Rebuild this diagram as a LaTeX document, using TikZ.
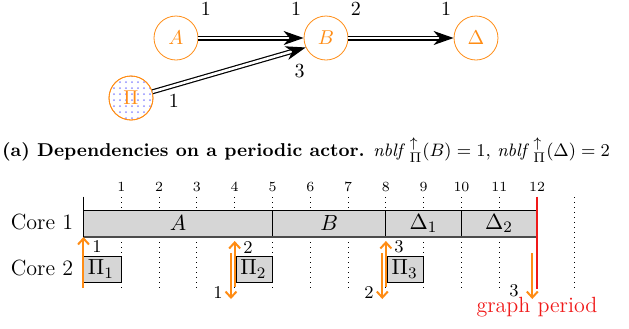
\documentclass[tikz,border=0pt]{standalone}
\usepackage{amsmath,amssymb}
\usepackage{xcolor}
\usetikzlibrary{arrows.meta,patterns}

\definecolor{actorcol}{RGB}{255,140,20}
\definecolor{periodcol}{RGB}{240,25,25}

\tikzset{
  actor/.style={circle, draw=actorcol, text=actorcol, minimum size=22pt, inner sep=0pt},
  chan/.style={double, double distance=1.3pt, line width=0.6pt,
    -{Stealth[length=10pt,width=7pt,inset=3pt]}},
  rate/.style={inner sep=1pt},
  job/.style={draw, fill=black!16},
  slot/.style={dotted, line width=0.5pt},
  trigger/.style={draw=actorcol, line width=1pt, -{Straight Barb[length=3pt,width=5.5pt]}},
  count/.style={font=\small, inner sep=1pt},
  big/.style={font=\fontsize{11}{13}\selectfont}
}

\begin{document}
\begin{tikzpicture}[x=0.5pt, y=-0.5pt]
  \useasboundingbox (0,0) rectangle (629,328);
  % dependency graph
  \node[actor, pattern=dots, pattern color=blue!45] (P) at (131,98) {};
  \node[actor] (A) at (176,38) {$A$};
  \node[actor] (B) at (326,38) {$B$};
  \node[actor] (D) at (476,38) {$\Delta$};
  \node[actor] (Pi) at (P) {$\Pi$};
  \draw[chan] (A) -- node[rate, pos=0.07, above=10pt] {1} node[rate, pos=0.93, above=10pt] {1} (B);
  \draw[chan] (B) -- node[rate, pos=0.07, above=10pt] {2} node[rate, pos=0.93, above=10pt] {1} (D);
  \draw[chan] (Pi) -- node[rate, pos=0.14, below=3pt] {1} node[rate, pos=0.96, below=6pt] {3} (B.205);

  % caption
  \node[font=\fontsize{9.3}{11}\selectfont] (cap) at (306,150) {\textbf{(a) Dependencies on a periodic actor.}
    ${\mathit{nblf}\,}^{\uparrow}_{\Pi}(B) = 1$, ${\mathit{nblf}\,}^{\uparrow}_{\Pi}(\Delta) = 2$};

  % schedule
  \foreach \t in {1,...,12}
    \node[font=\scriptsize] (tick\t) at ({83.5+37.8*\t},187) {\t};
  \foreach \t in {1,...,11,13}
    \draw[slot] ({83.5+37.8*\t},197) -- ({83.5+37.8*\t},288);
  \node[big] (core1) at (42,222) {Core 1};
  \node[big] (core2) at (42,268) {Core 2};

  \draw[job] (83.5,210.5) rectangle (272.5,236.5);
  \draw[job] (272.5,210.5) rectangle (385.9,236.5);
  \draw[job] (385.9,210.5) rectangle (461.1,236.5);
  \draw[job] (461.1,210.5) rectangle (537.1,236.5);
  \draw[black!70, line width=1pt] (83.5,236.5) -- (537.1,236.5);
  \node[big] (jA) at (178,223.5) {$A$};
  \node[big] (jB) at (329.2,223.5) {$B$};
  \node[big] (jD1) at (423.5,223.5) {$\Delta_1$};
  \node[big] (jD2) at (499.1,223.5) {$\Delta_2$};

  \draw[job] (83.5,256) rectangle (121.3,282);
  \draw[job] (236,256) rectangle (272.5,282);
  \draw[job] (387.3,256) rectangle (423.7,282);
  \node[big, anchor=west, inner sep=2pt] (jP1) at (83.5,269) {$\Pi_1$};
  \node[big, anchor=west, inner sep=2pt] (jP2) at (236,269) {$\Pi_2$};
  \node[big, anchor=west, inner sep=2pt] (jP3) at (387.3,269) {$\Pi_3$};

  \draw[line width=0.8pt] (83.5,196.5) -- (83.5,288);
  \draw[periodcol, line width=1.2pt] (537.1,196.5) -- (537.1,289);
  \node[big, text=periodcol] (per) at (537,307) {graph period};

  % production and consumption of tokens
  \draw[trigger] (83.5,288) -- (83.5,237);
  \draw[trigger] (234.7,287) -- (234.7,241);
  \draw[trigger] (231,253) -- (231,299);
  \draw[trigger] (385.9,287) -- (385.9,241);
  \draw[trigger] (382.3,253) -- (382.3,299);
  \draw[trigger] (532.3,253) -- (532.3,299);
  \node[count] (n1) at (97,247) {1};
  \node[count] (n2) at (248,248) {2};
  \node[count] (n3) at (218,293) {1};
  \node[count] (n4) at (399,247) {3};
  \node[count] (n5) at (369,293) {2};
  \node[count] (n6) at (514,291) {3};
\end{tikzpicture}
\end{document}
